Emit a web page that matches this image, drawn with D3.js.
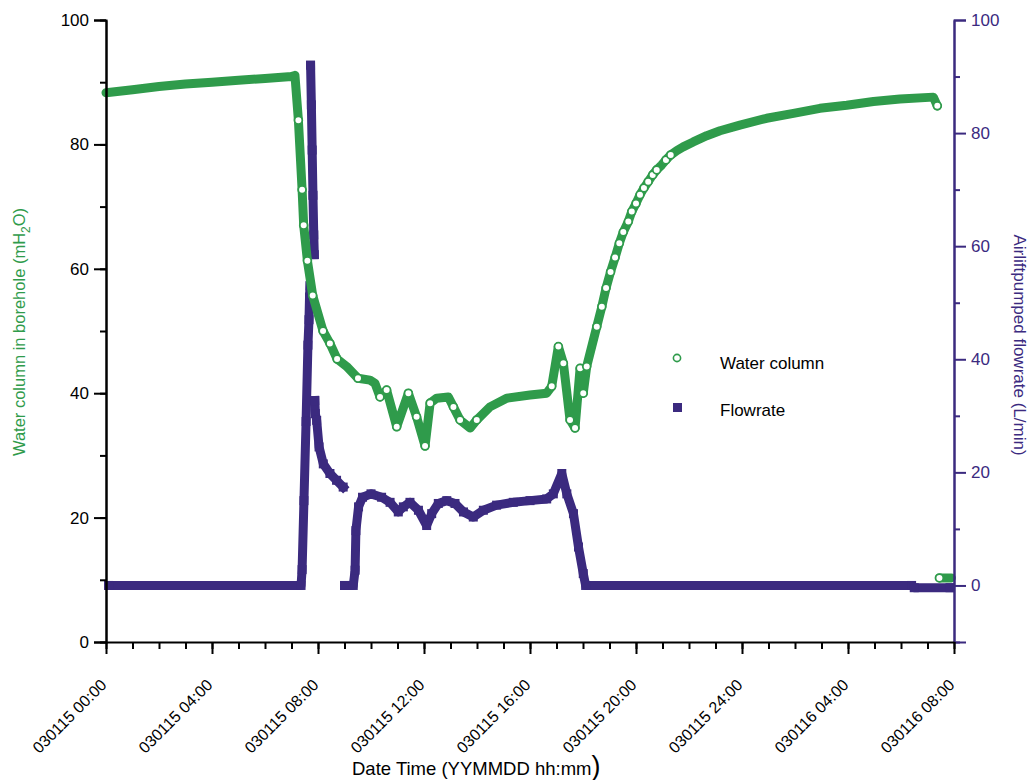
<!DOCTYPE html>
<html lang="en">
<head>
<meta charset="utf-8">
<title>Water column and flowrate</title>
<style>
    body { margin: 0; background: #fff; }
    svg text { font-family: "Liberation Sans", Arial, sans-serif; }
</style>
</head>
<body>
<script src="https://d3js.org/d3.v7.min.js"></script>
<script>
// water column readings (hours since 030115 00:00, mH2O)
const waterHours = [0, 1, 2, 3, 4, 5, 6, 7, 7.13,
    7.26, 7.40, 7.46, 7.60, 7.80, 8.19, 8.45, 8.72, 9.08, 9.51, 9.96, 10.15, 10.34, 10.59,
    10.97, 11.41, 11.72, 12.04, 12.23, 12.48, 12.92, 13.11, 13.36, 13.74, 13.99, 14.49,
    15.12, 16.0, 16.63, 16.82, 17.07, 17.26, 17.51, 17.70, 17.89, 18.01, 18.14, 18.52,
    18.71, 18.87, 19.04, 19.21, 19.37, 19.52, 19.71, 19.84, 20.0, 20.15, 20.3, 20.46,
    20.63, 20.78, 20.97, 21.13, 21.31, 21.54, 21.78, 22.16, 22.67, 23.17, 23.92, 24.93,
    25.94, 26.94, 27.95, 28.96, 29.96, 31.22, 31.37, 31.45, 31.9];
const waterLevel = [88.3, 88.8, 89.3, 89.7, 90.0, 90.3, 90.6, 90.9, 91.1,
    83.9, 72.7, 67.0, 61.3, 55.7, 50.0, 48.0, 45.5, 44.3, 42.4, 42.1, 41.6, 39.4, 40.5,
    34.6, 40.0, 36.2, 31.5, 38.4, 39.2, 39.4, 37.8, 35.7, 34.4, 35.7, 37.8,
    39.2, 39.7, 40.0, 41.1, 47.5, 44.8, 35.7, 34.4, 44.0, 40.0, 44.3, 50.7,
    53.9, 56.9, 59.5, 61.8, 64.1, 65.9, 67.6, 69.2, 70.5, 71.9, 73.0, 74.0,
    75.1, 75.9, 76.7, 77.5, 78.3, 79.0, 79.6, 80.4, 81.4, 82.2, 83.1, 84.2,
    85.0, 85.8, 86.3, 86.9, 87.3, 87.6, 86.2, 10.3, 10.3];

// airlift pumped flowrate (hours, L/min)
const flowHours = [0.1, 7.36, 7.40, 7.47, 7.55, 7.62, 7.66, 7.68, 7.70,
    7.72, 7.75, 7.78, 7.81, 7.84, 7.86,
    7.88, 7.90, 7.95, 8.04, 8.20, 8.45, 8.70, 8.95,
    9.0, 9.33, 9.40, 9.43, 9.53, 9.68, 10.0, 10.4, 10.72, 11.03, 11.22, 11.47, 11.79,
    12.1, 12.29, 12.54, 12.86, 13.17, 13.49, 13.86, 14.24, 14.74, 15.37, 16.0, 16.63,
    16.88, 17.2, 17.39, 17.64, 17.83, 18.01, 18.1, 30.4, 30.5, 31.85];
const flowRate = [0, 0, 2.8, 15, 29, 42.5, 47, 51, 53,
    92, 85, 77, 69, 62, 58.5,
    32.7, 30.4, 29.2, 24.5, 21.5, 19.8, 18.6, 17.4,
    0, 0, 2.7, 9.7, 13.9, 15.6, 16.2, 15.6, 14.7, 13.0, 13.9, 14.7, 13.3,
    10.6, 12.7, 14.5, 15.0, 14.5, 13.0, 12.1, 13.3, 14.2, 14.7, 15.0, 15.3,
    16.2, 19.8, 16.2, 12.7, 6.8, 2.1, 0, 0, -0.4, -0.4];

const timeTicks = [0, 4, 8, 12, 16, 20, 24, 28, 32];
const timeLabels = ["030115 00:00", "030115 04:00", "030115 08:00", "030115 12:00",
    "030115 16:00", "030115 20:00", "030115 24:00", "030116 04:00", "030116 08:00"];
const levelTicks = [0, 20, 40, 60, 80, 100];
const flowTicks = [0, 20, 40, 60, 80, 100];

const width = 1031, height = 780;
const green = "#2f9b4b", purple = "#3b2a7f";

const svg = d3.select("body").append("svg")
    .attr("width", width)
    .attr("height", height);

const x = d3.scaleLinear().domain([0, 32]).range([106, 954]);
const yL = d3.scaleLinear().domain([0, 100]).range([642, 20]);
const yR = d3.scaleLinear().domain([-10, 100]).range([642, 20]);

// split a series where consecutive samples jump far apart on screen
function segments(pts) {
    const out = [];
    let cur = [];
    pts.forEach((p, i) => {
        if (i > 0 && Math.abs(p[1] - pts[i - 1][1]) > 90) { out.push(cur); cur = []; }
        cur.push(p);
    });
    out.push(cur);
    return out;
}

const waterPts = waterHours.map((h, i) => [x(h), yL(waterLevel[i])]);
const flowPts = flowHours.map((h, i) => [x(h), yR(flowRate[i])]);
const line = d3.line();

// flowrate: dense squares merge into a band
svg.append("g").selectAll("path")
    .data(segments(flowPts))
    .join("path")
    .attr("d", line)
    .attr("fill", "none")
    .attr("stroke", purple)
    .attr("stroke-width", 9)
    .attr("stroke-linejoin", "round")
    .attr("stroke-linecap", "square");
svg.append("g").selectAll("rect")
    .data(flowPts)
    .join("rect")
    .attr("x", d => d[0] - 4.5)
    .attr("y", d => d[1] - 4.5)
    .attr("width", 9)
    .attr("height", 9)
    .attr("fill", purple);

// water column: open circles overlap into a band, visible where the level moves fast
svg.append("g").selectAll("path")
    .data(segments(waterPts))
    .join("path")
    .attr("d", line)
    .attr("fill", "none")
    .attr("stroke", green)
    .attr("stroke-width", 9)
    .attr("stroke-linejoin", "round")
    .attr("stroke-linecap", "round");
const steep = waterPts.filter((p, i) => i > 0 &&
    Math.abs(p[1] - waterPts[i - 1][1]) / Math.max(0.5, p[0] - waterPts[i - 1][0]) > 1);
svg.append("g").selectAll("circle")
    .data(steep)
    .join("circle")
    .attr("cx", d => d[0])
    .attr("cy", d => d[1])
    .attr("r", 3.9)
    .attr("fill", "#fff")
    .attr("stroke", green)
    .attr("stroke-width", 1.8);

// axes
function styleAxis(g, color) {
    g.selectAll(".domain, line").attr("stroke", color).attr("stroke-width", 2);
    g.selectAll("text").attr("fill", color).attr("font-size", 17);
}

const left = svg.append("g").attr("transform", "translate(106,0)");
left.call(d3.axisLeft(yL).tickValues(d3.range(0, 101, 10)).tickSize(6).tickSizeOuter(0).tickFormat(""));
left.call(g => styleAxis(g, "#000"));
const leftMajor = svg.append("g").attr("transform", "translate(106,0)");
leftMajor.call(d3.axisLeft(yL).tickValues(levelTicks).tickSize(12).tickPadding(5));
leftMajor.call(g => styleAxis(g, "#000"));

const right = svg.append("g").attr("transform", "translate(954,0)");
right.call(d3.axisRight(yR).tickValues(d3.range(-10, 101, 20)).tickSize(6).tickSizeOuter(0).tickFormat(""));
right.call(g => styleAxis(g, purple));
const rightMajor = svg.append("g").attr("transform", "translate(954,0)");
rightMajor.call(d3.axisRight(yR).tickValues(flowTicks).tickSize(12).tickPadding(5));
rightMajor.call(g => styleAxis(g, purple));

const bottom = svg.append("g").attr("transform", "translate(0,642)");
bottom.call(d3.axisBottom(x).tickValues(d3.range(0, 33, 1)).tickSize(7).tickSizeOuter(0).tickFormat(""));
bottom.call(g => styleAxis(g, "#000"));
const bottomMajor = svg.append("g").attr("transform", "translate(0,642)");
bottomMajor.call(d3.axisBottom(x).tickValues(timeTicks).tickSize(12).tickSizeOuter(0)
    .tickFormat((d, i) => timeLabels[i]));
bottomMajor.call(g => styleAxis(g, "#000"));
bottomMajor.select(".domain").remove();
bottomMajor.selectAll("text")
    .attr("font-size", 16)
    .attr("text-anchor", "end")
    .attr("dy", null)
    .attr("y", 0)
    .attr("transform", "translate(1,44) rotate(-45)");

// axis titles
svg.append("text")
    .attr("transform", "translate(25,332) rotate(-90)")
    .attr("text-anchor", "middle")
    .attr("fill", green)
    .attr("font-size", 16.5)
    .call(t => {
        t.append("tspan").text("Water column in borehole (mH");
        t.append("tspan").attr("font-size", 12).attr("dy", 5).text("2");
        t.append("tspan").attr("dy", -5).text("O)");
    });

svg.append("text")
    .attr("transform", "translate(1014,345) rotate(90)")
    .attr("text-anchor", "middle")
    .attr("fill", purple)
    .attr("font-size", 17)
    .text("Airliftpumped flowrate (L/min)");

svg.append("text")
    .attr("x", 352)
    .attr("y", 775)
    .attr("fill", "#000")
    .attr("font-size", 18.5)
    .call(t => {
        t.append("tspan").text("Date Time (YYMMDD hh:mm");
        t.append("tspan").attr("font-size", 27).text(")");
    });

// legend
const legend = svg.append("g");
legend.append("circle")
    .attr("cx", 677).attr("cy", 358).attr("r", 3.6)
    .attr("fill", "#fff").attr("stroke", green).attr("stroke-width", 1.6);
legend.append("text")
    .attr("x", 720).attr("y", 369)
    .attr("font-size", 17)
    .text("Water column");
legend.append("rect")
    .attr("x", 673).attr("y", 403).attr("width", 9).attr("height", 9)
    .attr("fill", purple);
legend.append("text")
    .attr("x", 720).attr("y", 416)
    .attr("font-size", 17)
    .text("Flowrate");
</script>
</body>
</html>
